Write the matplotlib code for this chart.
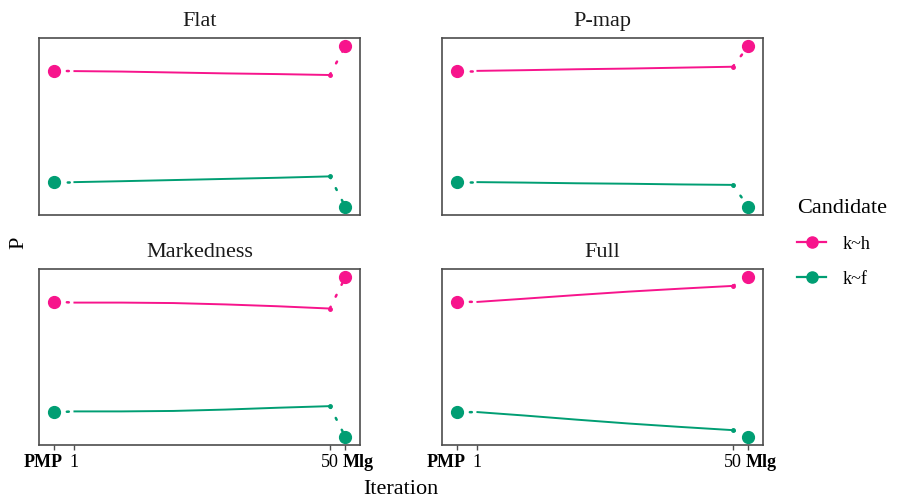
import numpy as np
import matplotlib
matplotlib.use("Agg")
import matplotlib.pyplot as plt
import matplotlib.transforms as mtransforms
from matplotlib.lines import Line2D

plt.rcParams['font.family'] = ['Liberation Serif', 'DejaVu Serif']

# data
panels = ['Flat', 'P-map', 'Markedness', 'Full']
candidates = ['k~h', 'k~f']
iterations = [1, 10, 20, 30, 40, 50]
pmp = {'k~h': 0.742, 'k~f': 0.258}
mlg = {'k~h': 0.85, 'k~f': 0.15}
flat_kh = [0.741, 0.739, 0.735, 0.731, 0.728, 0.724]
flat_kf = [0.258, 0.262, 0.267, 0.272, 0.277, 0.283]
pmap_kh = [0.742, 0.745, 0.749, 0.752, 0.756, 0.760]
pmap_kf = [0.258, 0.256, 0.253, 0.251, 0.248, 0.246]
mark_kh = [0.738, 0.738, 0.736, 0.730, 0.722, 0.712]
mark_kf = [0.262, 0.262, 0.264, 0.270, 0.278, 0.285]
full_kh = [0.741, 0.755, 0.771, 0.786, 0.799, 0.811]
full_kf = [0.259, 0.244, 0.226, 0.209, 0.194, 0.180]
series = {
    'Flat': {'k~h': flat_kh, 'k~f': flat_kf},
    'P-map': {'k~h': pmap_kh, 'k~f': pmap_kf},
    'Markedness': {'k~h': mark_kh, 'k~f': mark_kf},
    'Full': {'k~h': full_kh, 'k~f': full_kf},
}
pmp_x = -3
mlg_x = 53
tick_pos = [pmp_x, 1, 50, mlg_x]
tick_labels = ['PMP', '1', '50', 'Mlg']
colors = {'k~h': '#F7148C', 'k~f': '#009E73'}

W, H = 905, 502
fig = plt.figure(figsize=(W / 100, H / 100), dpi=100)

boxes = [(39, 360, 39, 216), (442, 763, 39, 216),
         (39, 360, 270, 446), (442, 763, 270, 446)]
dotted = (0, (0.8, 4.5))

for i, name in enumerate(panels):
    l, r, t, b = boxes[i]
    ax = fig.add_axes([l / W, 1 - b / H, (r - l) / W, (b - t) / H])
    for c in candidates:
        col = colors[c]
        ys = series[name][c]
        ax.plot([pmp_x, iterations[0]], [pmp[c], ys[0]], color=col, lw=1.8,
                linestyle=dotted, dash_capstyle='round')
        ax.plot([iterations[-1], mlg_x], [ys[-1], mlg[c]], color=col, lw=1.8,
                linestyle=dotted, dash_capstyle='round')
        ax.plot(iterations, ys, color=col, lw=1.4)
        ax.plot(iterations[-1], ys[-1], 'o', color=col, ms=2.5)
        ax.plot([pmp_x, mlg_x], [pmp[c], mlg[c]], 'o', color=col, ms=8.5,
                linestyle='none')
    ax.set_xlim(-5.8, 55.8)
    ax.set_ylim(0.115, 0.885)
    ax.set_yticks([])
    for s in ax.spines.values():
        s.set_color('#4d4d4d')
        s.set_linewidth(1.2)
    ax.set_title(name, fontsize=16, pad=9.5, color='#1a1a1a')
    if i >= 2:
        ax.set_xticks(tick_pos)
        ax.set_xticklabels(tick_labels, fontsize=13, color='black')
        ax.tick_params(axis='x', length=3.5, width=1, color='#4d4d4d', pad=2)
        labs = ax.get_xticklabels()
        labs[0].set_fontweight('bold')
        labs[0].set_ha('right')
        labs[0].set_transform(labs[0].get_transform() + mtransforms.ScaledTranslation(
            9 / 100, 0, fig.dpi_scale_trans))
        labs[3].set_fontweight('bold')
        labs[3].set_ha('left')
        labs[3].set_transform(labs[3].get_transform() + mtransforms.ScaledTranslation(
            -3 / 100, 0, fig.dpi_scale_trans))
    else:
        ax.set_xticks([])

fig.text(401 / W, 1 - 490 / H, 'Iteration', ha='center', va='center', fontsize=16)
fig.text(19 / W, 1 - 243 / H, 'P', ha='center', va='center', fontsize=16,
         rotation=90)

handles = [Line2D([0], [0], color=colors[c], lw=1.6, marker='o', ms=8)
           for c in candidates]
fig.legend(handles, candidates, title='Candidate', loc='upper left',
           bbox_to_anchor=(781 / W, 1 - 183 / H), frameon=False,
           fontsize=13, title_fontsize=16, handlelength=1.6,
           handletextpad=0.9, labelspacing=1.0, alignment='left')

fig.savefig('out.png', dpi=100)
